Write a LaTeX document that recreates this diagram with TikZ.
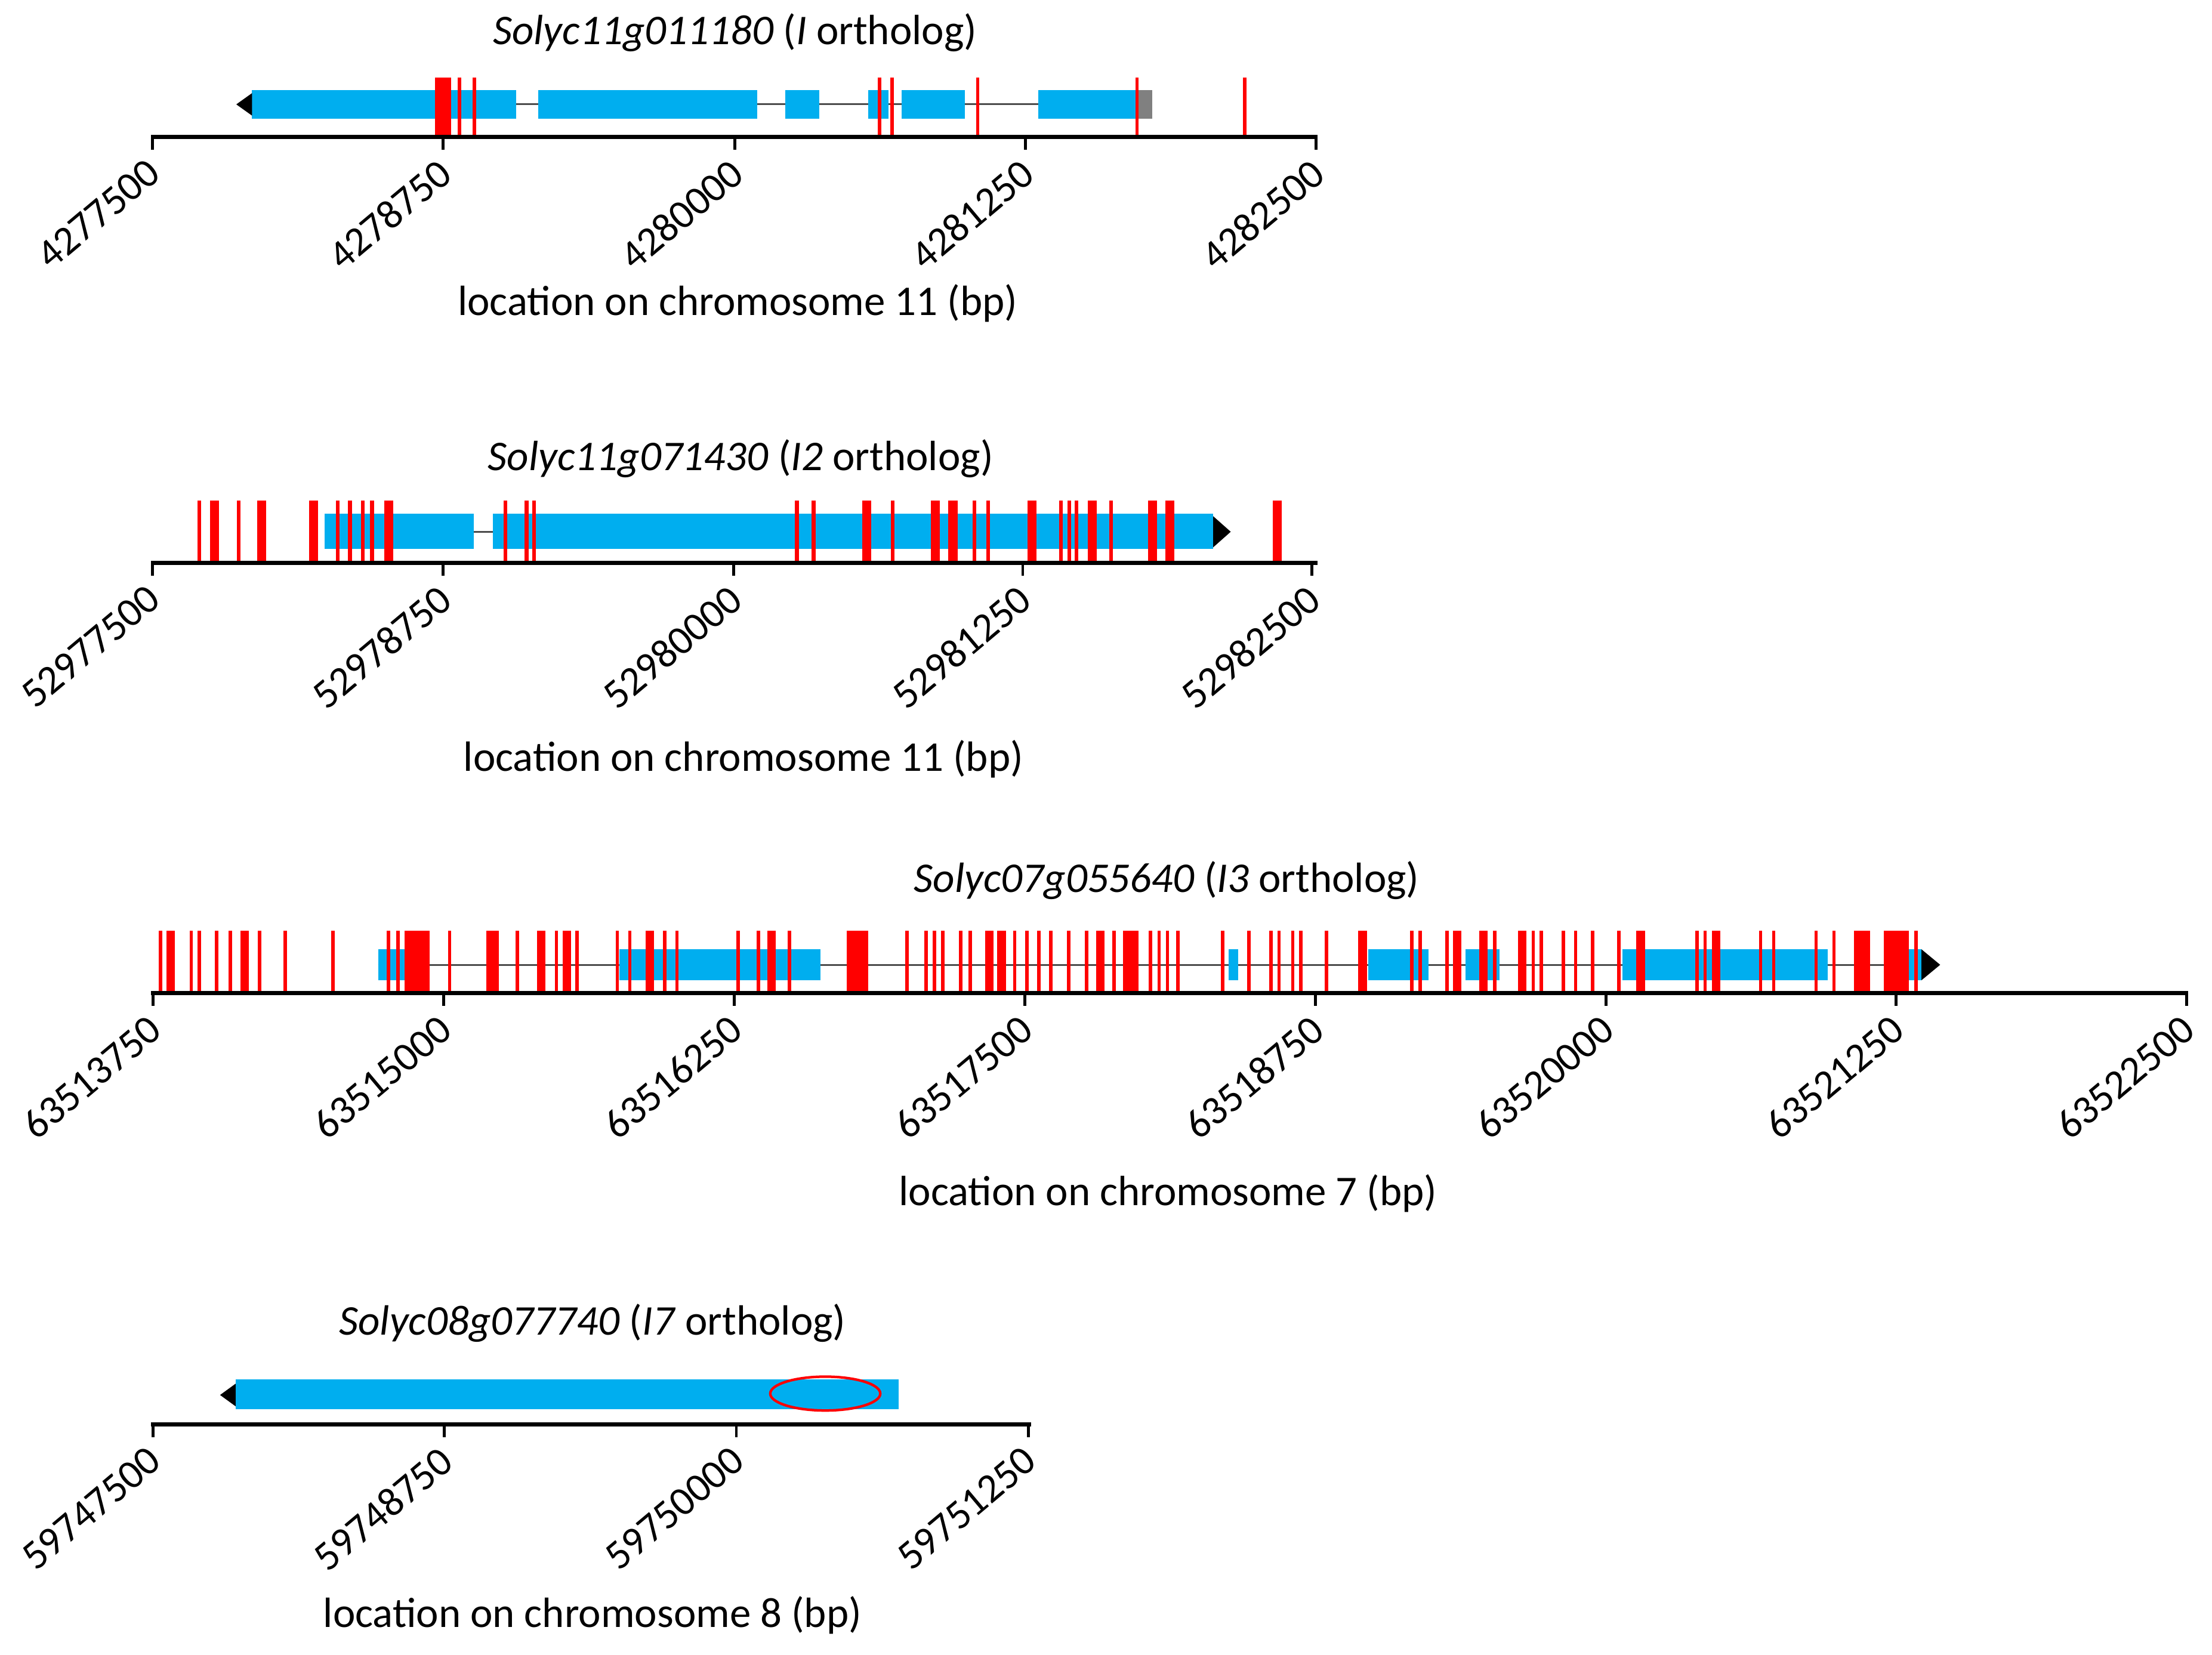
\documentclass[tikz,border=0pt]{standalone}
\usepackage{fontspec}
\setmainfont{Carlito}
\begin{document}
\begin{tikzpicture}[x=1pt,y=-1pt,
  blue/.style={fill={rgb,255:red,0;green,174;blue,239},draw=none},
  redm/.style={fill={rgb,255:red,255;green,0;blue,0},draw=none},
  axisl/.style={line width=3pt,black},
  tickl/.style={line width=2pt,black},
  intron/.style={line width=1.3pt,black!70},
  tlab/.style={font=\fontsize{29}{29}\selectfont,rotate=40,anchor=north east,inner sep=0pt},
  ttl/.style={font=\fontsize{30}{34}\selectfont},
]
\useasboundingbox (0,0) rectangle (1568,1173);
% ---------- Panel 1
\node[ttl] (t1) at (521,23) {\textit{Solyc11g011180} (\textit{I} ortholog)};
\draw[intron] (366,74) -- (736,74);
\foreach \a/\b in {178.7/366,381.6/536.7,556.6/580.8,615.5/629.8,639/684,736/806.6}
  \fill[blue] (\a,64) rectangle (\b,84);
\fill[gray] (806.6,64) rectangle (816.6,84);
\fill[black] (178.7,66) -- (167.5,74) -- (178.7,82) -- cycle;
\fill[redm] (308.4,55) rectangle (319.6,97);
\foreach \a in {325.8,336.3,623.6,632.3,693,806,882.4}
  \fill[redm] (\a-1.2,55) rectangle (\a+1.2,97);
\draw[axisl] (107,97) -- (934,97);
\foreach \x/\l in {108/4277500,314/4278750,521/4280000,727/4281250,933/4282500}{
  \draw[tickl] (\x,97) -- (\x,106);
  \node[tlab] at (\x-5,111) {\l};}
\node[ttl] (x1) at (523,215) {location on chromosome 11 (bp)};
% ---------- Panel 2
\node[ttl] (t2) at (525,325) {\textit{Solyc11g071430} (\textit{I2} ortholog)};
\draw[intron] (336,377) -- (349.5,377);
\fill[blue] (230.3,364) rectangle (336,389);
\fill[blue] (349.5,364) rectangle (860,389);
\fill[black] (860,366) -- (872.4,377) -- (860,388) -- cycle;
\foreach \a in {141.3,169.3,239.5,248.1,257.3,263.7,358.2,373.3,378.7,564.9,576.7,632.8,690.6,700.3,752.1,758,762.9,787.7}
  \fill[redm] (\a-1.3,355) rectangle (\a+1.3,398);
\foreach \a in {152,185.5,222.2,275.6,614.5,663,675.5,731.6,774.2,816.9,829.3,905.3}
  \fill[redm] (\a-3.2,355) rectangle (\a+3.2,398);
\draw[axisl] (107,399) -- (934,399);
\foreach \x/\l in {108/52977500,314/52978750,520/52980000,725/52981250,930/52982500}{
  \draw[tickl] (\x,399) -- (\x,408);
  \node[tlab] at (\x-5,413) {\l};}
\node[ttl] (x2) at (527,538) {location on chromosome 11 (bp)};
% ---------- Panel 3
\node[ttl] (t3) at (827,624) {\textit{Solyc07g055640} (\textit{I3} ortholog)};
\draw[intron] (268,684) -- (1362,684);
\foreach \a/\b in {268/304,439/581.4,870.7/877.5,969.8/1012.5,1038.7/1063,1150/1295.6,1353/1362}
  \fill[blue] (\a,673) rectangle (\b,695);
\fill[black] (1362,673) -- (1375.3,684) -- (1362,695) -- cycle;
\foreach \a in {113.7,135.6,141.4,153.6,163.3,184.1,202.1,236.1,275.4,282.2,318.7,366.7,394.4,409,437.6,446.4,471.1,479.9,523.1,537.7,559.5,643,656.6,662.5,668.3,680.9,687.7,719.3,728,736.3,745,757.6,770.3,789.7,815.4,821.7,827.6,834.9,866.8,885.3,900.8,906.6,916.4,922.2,940.2,1000.9,1006.7,1025.6,1059.6,1086.8,1092.6,1108.2,1116.9,1129,1147.5,1202.9,1208.7,1248,1257.3,1287.4,1300,1358.2}
  \fill[redm] (\a-1.2,660) rectangle (\a+1.2,703);
\foreach \a in {121,173.5,383.7,401.7,460.5,546.9,701.3,710,780,965.9,1032.9,1051.4,1079,1163,1216.5}
  \fill[redm] (\a-3,660) rectangle (\a+3,703);
\foreach \a/\b in {286.6/304.6,344.9/353.6,600.3/615.4,796/807.2,1314/1325.7,1335.4/1353}
  \fill[redm] (\a,660) rectangle (\b,703);
\draw[axisl] (107,704) -- (1551,704);
\foreach \x/\l in {108.5/63513750,314.5/63515000,520.5/63516250,726.5/63517500,932.5/63518750,1138.5/63520000,1344/63521250,1550/63522500}{
  \draw[tickl] (\x,704) -- (\x,713);
  \node[tlab] at (\x-5,718) {\l};}
\node[ttl] (x3) at (828,846) {location on chromosome 7 (bp)};
% ---------- Panel 4
\node[ttl] (t4) at (420,938) {\textit{Solyc08g077740} (\textit{I7} ortholog)};
\fill[blue] (167,978) rectangle (637,999);
\fill[black] (167,981) -- (156,989) -- (167,997) -- cycle;
\draw[red,line width=1.8pt] (585,988) ellipse [x radius=39,y radius=12];
\draw[axisl] (107,1010) -- (731,1010);
\foreach \x/\l in {108.5/59747500,315/59748750,522/59750000,729/59751250}{
  \draw[tickl] (\x,1010) -- (\x,1019);
  \node[tlab] at (\x-5,1024) {\l};}
\node[ttl] (x4) at (420,1145) {location on chromosome 8 (bp)};
\end{tikzpicture}
\end{document}
